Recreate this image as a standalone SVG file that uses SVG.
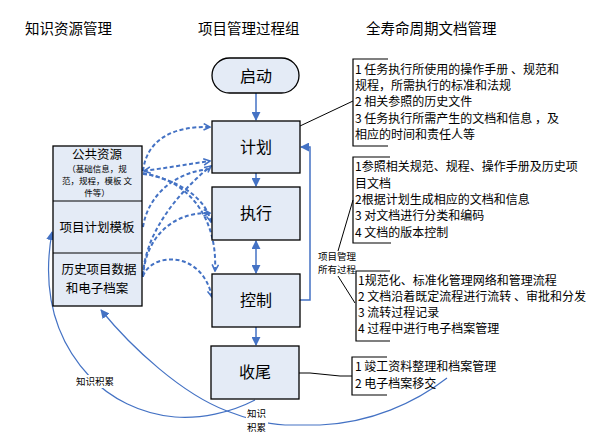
<svg xmlns="http://www.w3.org/2000/svg" width="605" height="447" viewBox="0 0 605 447">
<style>
text{font-family:"Noto Sans CJK SC","Noto Sans",sans-serif;fill:#000}
.title{font-size:14.5px}
.node{fill:#E4EBF6;stroke:#000;stroke-width:1.3}
.lbl{font-size:16px;text-anchor:middle}
.res{font-size:12.5px;text-anchor:middle}
.small{font-size:9.5px}
.tiny{font-size:8.5px;text-anchor:middle}
.note{font-size:12px}
.br{fill:none;stroke:#000;stroke-width:1.2}
.thin{fill:none;stroke:#000;stroke-width:1}
.solid{fill:none;stroke:#4472C4;stroke-width:1.5}
.curve{fill:none;stroke:#4472C4;stroke-width:1.2}
.dash{fill:none;stroke:#4472C4;stroke-width:2;stroke-dasharray:4 2.5}
</style>
<defs>
<marker id="ah" viewBox="0 0 10 10" refX="9" refY="5" markerWidth="9" markerHeight="9" markerUnits="userSpaceOnUse" orient="auto-start-reverse">
<path d="M0,0 L10,5 L0,10 z" fill="#4472C4"/>
</marker>
<marker id="oh" viewBox="0 0 10 10" refX="9" refY="5" markerWidth="8" markerHeight="8" markerUnits="userSpaceOnUse" orient="auto-start-reverse">
<path d="M1,1 L9,5 L1,9" fill="none" stroke="#4472C4" stroke-width="2"/>
</marker>
</defs>

<rect width="605" height="447" fill="#fff"/>

<g id="titles">
<text class="title" x="25" y="34">知识资源管理</text>
<text class="title" x="198" y="34">项目管理过程组</text>
<text class="title" x="366" y="34">全寿命周期文档管理</text>
</g>

<g id="connectors">
<!-- solid flow arrows -->
<line class="solid" x1="256" y1="93" x2="256" y2="120" marker-end="url(#ah)"/>
<line class="solid" x1="256" y1="173" x2="256" y2="186" marker-end="url(#ah)"/>
<line class="solid" x1="256" y1="241" x2="256" y2="273" marker-start="url(#ah)" marker-end="url(#ah)"/>
<line class="solid" x1="256" y1="327" x2="256" y2="345" marker-end="url(#ah)"/>
<polyline class="solid" points="300,300 310,300 310,147 301,147" marker-end="url(#ah)"/>
<!-- black leader lines -->
<line class="thin" x1="300" y1="126" x2="353" y2="101"/>
<polyline class="thin" points="299,373 310,373 340,376 352,376"/>
<line class="thin" x1="338" y1="251" x2="353" y2="200"/>
<line class="thin" x1="338" y1="276" x2="355" y2="303"/>
<!-- dashed knowledge links -->
<path class="dash" d="M143,171 C147,138 175,126 210,127" marker-end="url(#oh)"/>
<path class="dash" d="M144,171 C165,168 190,164 210,161" marker-start="url(#oh)" marker-end="url(#oh)"/>
<path class="dash" d="M143,173 C175,180 205,195 211,222" marker-end="url(#oh)"/>
<path class="dash" d="M143,174 C185,178 218,215 215,271" marker-end="url(#oh)"/>
<path class="dash" d="M143,227 C148,195 175,172 210,169"/>
<path class="dash" d="M143,275 C145,235 175,195 211,166" marker-end="url(#oh)"/>
<path class="dash" d="M143,277 C145,240 170,212 210,213" marker-end="url(#oh)"/>
<path class="dash" d="M143,276 C152,252 202,250 212,297" marker-end="url(#oh)"/>
<!-- knowledge accumulation curves -->
<path class="curve" d="M255,400 C230,413 200,419 175,417 C140,414 110,398 90,377 C60,345 40,300 52,232" marker-end="url(#ah)"/>
<path class="curve" d="M447,378 C415,403 370,423 320,425 L285,425 C265,424 245,418 227,411 C182,394 132,348 101,310" marker-end="url(#ah)"/>
</g>

<g id="n-start">
<rect class="node" x="212" y="58" width="87" height="35" rx="17.5"/>
<text class="lbl" x="256" y="82">启动</text>
</g>
<g id="n-plan">
<rect class="node" x="212" y="121" width="88" height="52"/>
<text class="lbl" x="256" y="153">计划</text>
</g>
<g id="n-exec">
<rect class="node" x="212" y="187" width="88" height="53"/>
<text class="lbl" x="256" y="219">执行</text>
</g>
<g id="n-ctrl">
<rect class="node" x="212" y="274" width="88" height="53"/>
<text class="lbl" x="256" y="306">控制</text>
</g>
<g id="n-close">
<rect class="node" x="211" y="346" width="88" height="53"/>
<text class="lbl" x="255" y="378">收尾</text>
</g>

<g id="n-resources">
<rect class="node" x="53" y="146" width="89" height="160"/>
<line class="thin" x1="53" y1="201" x2="142" y2="201" stroke-width="1.3"/>
<line class="thin" x1="53" y1="253" x2="142" y2="253" stroke-width="1.3"/>
<text class="res" x="97" y="159">公共资源</text>
<text class="tiny" x="97" y="172">（基础信息，规</text>
<text class="tiny" x="97" y="184">范，规程，模板 文</text>
<text class="tiny" x="97" y="196">件等）</text>
<text class="res" x="97" y="232">项目计划模板</text>
<text class="res" x="99" y="274">历史项目数据</text>
<text class="res" x="97" y="293">和电子档案</text>
</g>

<g id="n-doc1">
<polyline class="br" points="388,59 353,59 353,146 388,146"/>
<text class="note" x="355" y="74">1 任务执行所使用的操作手册 、规范和</text>
<text class="note" x="355" y="90">规程，所需执行的标准和法规</text>
<text class="note" x="355" y="106">2 相关参照的历史文件</text>
<text class="note" x="355" y="123">3 任务执行所需产生的文档和信息 ，及</text>
<text class="note" x="355" y="139">相应的时间和责任人等</text>
</g>
<g id="n-doc2">
<polyline class="br" points="390,157 353,157 353,243 391,243"/>
<text class="note" x="355" y="171">1参照相关规范、规程、操作手册及历史项</text>
<text class="note" x="355" y="188">目文档</text>
<text class="note" x="355" y="204">2根据计划生成相应的文档和信息</text>
<text class="note" x="355" y="220">3 对文档进行分类和编码</text>
<text class="note" x="355" y="237">4 文档的版本控制</text>
</g>
<g id="n-doc3">
<polyline class="br" points="390,271 356,271 356,341 390,341"/>
<text class="note" x="358" y="285">1规范化、标准化管理网络和管理流程</text>
<text class="note" x="358" y="301">2 文档沿着既定流程进行流转 、审批和分发</text>
<text class="note" x="358" y="317">3 流转过程记录</text>
<text class="note" x="358" y="333">4 过程中进行电子档案管理</text>
</g>
<g id="n-doc4">
<polyline class="br" points="387,357 352,357 352,395 387,395"/>
<text class="note" x="355" y="371">1 竣工资料整理和档案管理</text>
<text class="note" x="355" y="388">2 电子档案移交</text>
</g>

<g id="labels">
<text class="small" x="318" y="260">项目管理</text>
<text class="small" x="318" y="273">所有过程</text>
<rect x="75" y="375" width="41" height="13" fill="#fff"/>
<text class="small" x="76" y="385">知识积累</text>
<rect x="246" y="406" width="22" height="28" fill="#fff"/>
<text class="small" x="247" y="417">知识</text>
<text class="small" x="247" y="431">积累</text>
</g>
</svg>
